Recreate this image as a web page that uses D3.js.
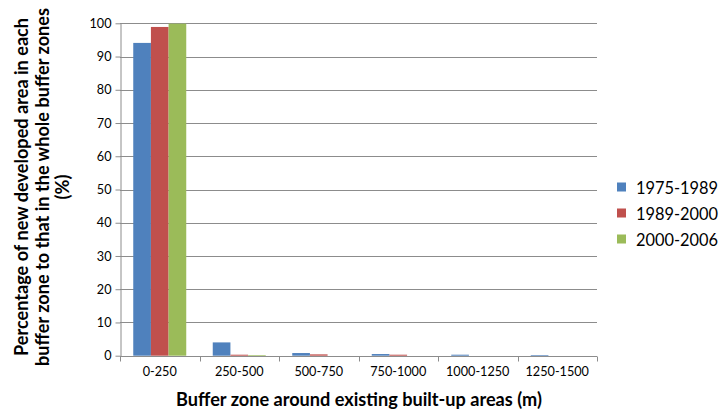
<!DOCTYPE html>
<html>
<head>
<meta charset="utf-8">
<script src="https://cdn.jsdelivr.net/npm/d3@7"></script>
<style>
  html, body { margin: 0; padding: 0; background: #fff; }
  svg { display: block; font-family: Lato, "Open Sans", "Liberation Sans", sans-serif; }
</style>
</head>
<body>
<svg id="chart" width="720" height="417"></svg>
<script>
// Buffer zones (m) around existing built-up areas
const zones = ["0-250", "250-500", "500-750", "750-1000", "1000-1250", "1250-1500"];
const periods = ["1975-1989", "1989-2000", "2000-2006"];
// Share of new developed area per zone (%)
const share1975_1989 = [94.1, 4.0, 0.8, 0.5, 0.3, 0.2];
const share1989_2000 = [98.9, 0.3, 0.4, 0.3, 0.0, 0.0];
const share2000_2006 = [99.9, 0.2, 0.0, 0.0, 0.0, 0.0];
const yTicks = [0, 10, 20, 30, 40, 50, 60, 70, 80, 90, 100];
const colors = ["#4F81BD", "#C0504D", "#9BBB59"];

const series = [share1975_1989, share1989_2000, share2000_2006];

const svg = d3.select("#chart");
const m = { left: 120, right: 597, top: 23.3, bottom: 355.7 };

// font size that makes a sample string span the wanted width
function fitSize(sample, width, weight) {
  const t = svg.append("text").attr("font-size", 100).attr("font-weight", weight || "normal").text(sample);
  const w = t.node().getComputedTextLength();
  t.remove();
  return 100 * width / w;
}
const tickSize = fitSize("1250-1500", 63.5);
const yTickSize = fitSize("100", 22);
const titleSize = fitSize("Buffer zone around existing built-up areas (m)", 366, "bold");
const legendSize = fitSize("1975-1989", 82);

const x = d3.scaleBand().domain(zones).range([m.left, m.right]).paddingInner(0).paddingOuter(0);
// gap width of 150%: 3 bars + 1.5 bar widths per category
const barW = x.bandwidth() / 4.5;
const xs = d3.scaleBand().domain(periods).range([0, barW * 3]);
const y = d3.scaleLinear().domain([0, 100]).range([m.bottom, m.top]);

// horizontal gridlines
svg.append("g").selectAll("line").data(yTicks.filter(d => d > 0)).join("line")
  .attr("x1", m.left).attr("x2", m.right)
  .attr("y1", d => Math.round(y(d)) + 0.5).attr("y2", d => Math.round(y(d)) + 0.5)
  .attr("stroke", "#8c8c8c").attr("stroke-width", 1);

// bars
series.forEach((vals, si) => {
  svg.append("g").selectAll("rect").data(zones.map((z, i) => ({ z, v: vals[i] }))).join("rect")
    .attr("x", d => x(d.z) + barW * 0.75 + xs(periods[si]))
    .attr("width", barW)
    .attr("y", d => y(d.v))
    .attr("height", d => y(0) - y(d.v))
    .attr("fill", colors[si]);
});

// y axis
const yAxis = svg.append("g").attr("transform", `translate(${m.left + 0.5},0)`)
  .call(d3.axisLeft(y).tickValues(yTicks).tickSize(5).tickSizeOuter(0).tickPadding(4));
yAxis.select(".domain").attr("stroke", "#8c8c8c");
yAxis.selectAll(".tick line").attr("stroke", "#8c8c8c");
yAxis.selectAll("text").attr("font-size", yTickSize).attr("fill", "#000")
  .attr("font-family", "Lato, 'Open Sans', sans-serif");

// x axis with ticks at category boundaries
const xAxisG = svg.append("g").attr("transform", `translate(0,${Math.round(m.bottom) + 0.5})`);
xAxisG.append("line").attr("x1", m.left).attr("x2", m.right).attr("stroke", "#8c8c8c");
xAxisG.selectAll("line.tk").data(d3.range(zones.length + 1)).join("line")
  .attr("class", "tk")
  .attr("x1", i => Math.round(m.left + i * x.bandwidth()) + 0.5)
  .attr("x2", i => Math.round(m.left + i * x.bandwidth()) + 0.5)
  .attr("y1", 0).attr("y2", 5).attr("stroke", "#8c8c8c");
xAxisG.selectAll("text").data(zones).join("text")
  .attr("x", d => x(d) + x.bandwidth() / 2)
  .attr("y", 19.5)
  .attr("text-anchor", "middle")
  .attr("font-size", tickSize)
  .attr("fill", "#000")
  .text(d => d);

// axis titles
svg.append("text")
  .attr("x", 359).attr("y", 406)
  .attr("text-anchor", "middle")
  .attr("font-size", titleSize).attr("font-weight", "bold")
  .text("Buffer zone around existing built-up areas (m)");

const yTitle = [
  "Percentage of new developed area in each",
  "buffer zone to that in the whole buffer zones",
  "(%)"
];
const yt = svg.append("text")
  .attr("transform", "translate(28,187) rotate(-90)")
  .attr("text-anchor", "middle")
  .attr("font-size", titleSize).attr("font-weight", "bold");
yt.selectAll("tspan").data(yTitle).join("tspan")
  .attr("x", 0).attr("dy", (d, i) => i === 0 ? 0 : 20.5)
  .text(d => d);

// legend
const lg = svg.append("g").attr("transform", "translate(617,187)");
periods.forEach((p, i) => {
  const row = lg.append("g").attr("transform", `translate(0,${i * 26})`);
  row.append("rect").attr("x", 0).attr("y", -4.5).attr("width", 9).attr("height", 9).attr("fill", colors[i]);
  row.append("text").attr("x", 19).attr("y", 6.5).attr("font-size", legendSize).attr("fill", "#000").text(p);
});
</script>
</body>
</html>
